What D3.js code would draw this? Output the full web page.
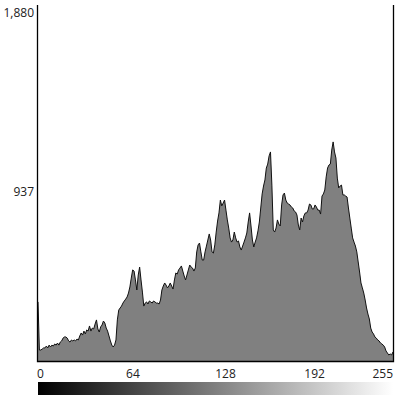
<!DOCTYPE html>
<html>
<head>
<meta charset="utf-8">
<script src="https://cdn.jsdelivr.net/npm/d3@7"></script>
<style>
  body { margin: 0; background: #fff; }
  svg { display: block; }
</style>
</head>
<body>
<script>
// histogram counts per grey level 0..255
var counts = [
  312, 58, 58, 63, 69, 69, 79, 69, 84, 74, 84, 79, 90, 84, 95, 84,
  100, 106, 121, 127, 127, 121, 106, 100, 111, 106, 111, 106, 116, 111, 132, 148,
  137, 158, 143, 164, 158, 185, 158, 174, 169, 195, 217, 169, 153, 180, 190, 211,
  201, 174, 158, 132, 106, 84, 74, 84, 111, 217, 269, 280, 290, 306, 317, 327,
  338, 359, 391, 438, 481, 475, 428, 375, 454, 496, 428, 364, 290, 306, 312, 301,
  317, 312, 306, 317, 312, 306, 306, 301, 322, 375, 396, 412, 401, 386, 396, 412,
  396, 380, 428, 465, 459, 481, 491, 502, 475, 449, 428, 454, 481, 507, 496, 491,
  475, 491, 576, 613, 623, 576, 533, 533, 576, 607, 639, 671, 639, 576, 570, 613,
  681, 739, 782, 850, 819, 834, 850, 797, 745, 702, 650, 628, 639, 681, 650, 628,
  634, 602, 586, 607, 628, 650, 676, 734, 782, 713, 639, 602, 628, 650, 687, 734,
  808, 882, 924, 956, 1019, 1040, 1083, 1104, 929, 692, 681, 702, 745, 723, 713, 824,
  877, 887, 850, 834, 829, 824, 813, 808, 792, 787, 771, 718, 692, 755, 734, 766,
  782, 782, 797, 829, 824, 803, 803, 824, 813, 797, 797, 776, 871, 882, 903, 972,
  1019, 1035, 1040, 1114, 1157, 1104, 1072, 966, 914, 924, 929, 877, 877, 871, 866, 808,
  755, 702, 650, 628, 607, 576, 523, 470, 412, 386, 359, 322, 280, 248, 222, 174,
  153, 143, 127, 121, 111, 106, 95, 90, 84, 74, 53, 42, 32, 37, 32, 48
];
var yTicks = [937, 1880];
var xTicks = [0, 64, 128, 192, 255];

var width = 400, height = 400;
var plotLeft = 38, plotRight = 393, plotTop = 5, plotBottom = 361;

var svg = d3.select('body').append('svg')
    .attr('width', width)
    .attr('height', height);

var xscale = d3.scaleLinear().domain([0, 255]).range([plotLeft, plotRight]);
var yscale = d3.scaleLinear().domain([0, 1880]).range([plotBottom, plotTop]);

//filled histogram
var area = d3.area()
    .x(function (d, i) { return xscale(i); })
    .y0(plotBottom)
    .y1(function (d) { return yscale(d); });

var line = d3.line()
    .x(function (d, i) { return xscale(i); })
    .y(function (d) { return yscale(d); });

svg.append('path')
    .datum(counts)
    .attr('d', area)
    .attr('fill', '#808080');

svg.append('path')
    .datum(counts)
    .attr('d', line)
    .attr('fill', 'none')
    .attr('stroke', '#111')
    .attr('stroke-width', 1);

//frame: left, bottom, right
svg.append('path')
    .attr('d', 'M' + (plotLeft - 0.5) + ',' + plotTop + 'V' + (plotBottom + 0.5) + 'H' + (plotRight + 0.5) + 'V' + plotTop)
    .attr('fill', 'none')
    .attr('stroke', '#000')
    .attr('stroke-width', 1.3);

//y labels, hanging under their value
svg.selectAll('.ylab')
    .data(yTicks)
    .enter().append('text')
        .attr('x', plotLeft - 4)
        .attr('y', function (d) { return yscale(d) + 9; })
        .attr('text-anchor', 'end')
        .attr('dominant-baseline', 'middle')
        .attr('font-family', 'Open Sans')
        .attr('font-size', '12px')
        .attr('fill', '#222')
        .text(function (d) { return d3.format(',')(d); });

//x labels
svg.selectAll('.xlab')
    .data(xTicks)
    .enter().append('text')
        .attr('x', function (d) { return d === 255 ? xscale(d) : xscale(d) - 1; })
        .attr('y', 375)
        .attr('text-anchor', function (d) { return d === 255 ? 'end' : 'start'; })
        .attr('dominant-baseline', 'middle')
        .attr('font-family', 'Open Sans')
        .attr('font-size', '12px')
        .attr('fill', '#222')
        .text(function (d) { return d; });

//grey ramp under the axis
var grad = svg.append('defs').append('linearGradient')
    .attr('id', 'ramp');
grad.append('stop').attr('offset', '0%').attr('stop-color', '#000');
grad.append('stop').attr('offset', '100%').attr('stop-color', '#fff');

svg.append('rect')
    .attr('x', plotLeft)
    .attr('y', 382)
    .attr('width', plotRight - plotLeft)
    .attr('height', 13)
    .attr('fill', 'url(#ramp)');
</script>
</body>
</html>
